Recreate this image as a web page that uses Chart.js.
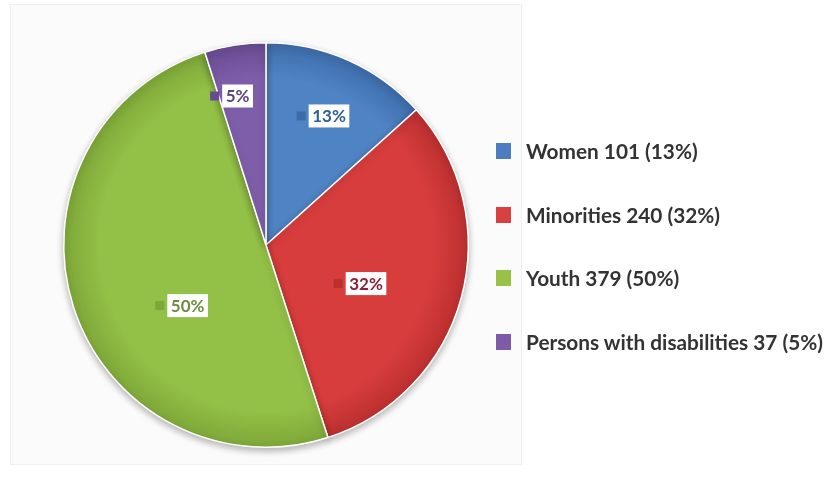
<!DOCTYPE html>
<html>
<head>
<meta charset="utf-8">
<script src="https://cdn.jsdelivr.net/npm/chart.js@4/dist/chart.umd.min.js"></script>
<style>
  html, body { margin: 0; padding: 0; background: #ffffff; }
  #wrap { position: relative; width: 840px; height: 486px; overflow: hidden; }
  #panel { position: absolute; left: 10px; top: 4px; width: 512px; height: 461px;
           background: #fbfbfb; border: 1px solid #efefef; box-sizing: border-box; }
  #chartBox { position: absolute; left: 0; top: 0; width: 840px; height: 486px; }
  #legend { position: absolute; left: 0; top: 0; width: 840px; height: 486px; pointer-events: none;
            font-family: Lato, "Open Sans", sans-serif; font-weight: 700; color: #333333; }
  .lg-row { position: absolute; left: 496px; height: 22px; display: flex; align-items: center; white-space: nowrap; }
  .lg-box { width: 15px; height: 16px; margin-right: 15px; }
  .lg-text { font-size: 20.8px; line-height: 22px; }
</style>
</head>
<body>
<div id="wrap">
  <div id="panel"></div>
  <div id="chartBox"><canvas id="c" width="840" height="486"></canvas></div>
  <div id="legend"></div>
</div>
<script>
// ---- data ----
const categories = ["Women", "Minorities", "Youth", "Persons with disabilities"];
const counts = [101, 240, 379, 37];
const percentLabels = ["13%", "32%", "50%", "5%"];

// ---- styles ----
const innerColors = ["#4f84c4", "#d83d3d", "#93c047", "#7f5ea9"];
const outerColors = ["#3d6caa", "#bb2f2f", "#7da738", "#684a92"];
const legendColors = ["#4a7ec0", "#d94040", "#97c246", "#7e5ba6"];
const labelTextColors = ["#2e6096", "#8c1f33", "#6f8c40", "#5a4680"];
const labelRadius = [0.71, 0.53, 0.49, 0.75];
const labelAngleShift = [2, 6, -20, -2];
const legendRowY = [151, 215, 278, 342];

function radialFill(ctx) {
  const idx = ctx.dataIndex;
  const chart = ctx.chart;
  const area = chart.chartArea;
  if (!area) return innerColors[idx];
  const cx = (area.left + area.right) / 2;
  const cy = (area.top + area.bottom) / 2;
  const r = Math.min(area.right - area.left, area.bottom - area.top) / 2;
  const g = chart.ctx.createRadialGradient(cx, cy, 0, cx, cy, r);
  g.addColorStop(0, innerColors[idx]);
  g.addColorStop(0.82, innerColors[idx]);
  g.addColorStop(1, outerColors[idx]);
  return g;
}

const shadowPlugin = {
  id: 'shadow',
  beforeDatasetDraw(chart) {
    const c = chart.ctx;
    c.save();
    c.shadowColor = 'rgba(0,0,0,0.28)';
    c.shadowBlur = 7;
    c.shadowOffsetX = 0;
    c.shadowOffsetY = 3;
  },
  afterDatasetDraw(chart) {
    chart.ctx.restore();
  }
};

const labelPlugin = {
  id: 'sliceLabels',
  afterDatasetsDraw(chart) {
    const c = chart.ctx;
    const meta = chart.getDatasetMeta(0);
    c.save();
    c.font = 'bold 17px Lato, "Open Sans", sans-serif';
    c.textBaseline = 'middle';
    c.textAlign = 'left';
    meta.data.forEach((arc, i) => {
      const mid = (arc.startAngle + arc.endAngle) / 2 + labelAngleShift[i] * Math.PI / 180;
      const r = arc.outerRadius * labelRadius[i];
      const cx = arc.x + Math.cos(mid) * r;
      const cy = arc.y + Math.sin(mid) * r;
      const txt = percentLabels[i];
      const tw = c.measureText(txt).width;
      const bw = tw + 7, bh = 23;
      const bx = cx - bw / 2, by = cy - bh / 2;
      c.fillStyle = '#ffffff';
      c.fillRect(bx, by, bw, bh);
      c.fillStyle = outerColors[i];
      c.fillRect(bx - 12, cy - 4.5, 9, 9);
      c.fillStyle = labelTextColors[i];
      c.fillText(txt, bx + 3.5, cy + 1);
    });
    c.restore();
  }
};

const chart = new Chart(document.getElementById('c'), {
  type: 'pie',
  data: {
    labels: categories,
    datasets: [{
      data: counts,
      backgroundColor: radialFill,
      borderColor: '#ffffff',
      borderWidth: 1.5
    }]
  },
  options: {
    responsive: false,
    animation: false,
    layout: { padding: { left: 62, top: 42, right: 370, bottom: 38 } },
    plugins: {
      legend: { display: false },
      tooltip: { enabled: false }
    }
  },
  plugins: [shadowPlugin, labelPlugin]
});

// HTML legend built from data
const lg = document.getElementById('legend');
categories.forEach((name, i) => {
  const row = document.createElement('div');
  row.className = 'lg-row';
  row.style.top = (legendRowY[i] - 11) + 'px';
  const box = document.createElement('div');
  box.className = 'lg-box';
  box.style.background = legendColors[i];
  const t = document.createElement('span');
  t.className = 'lg-text';
  t.textContent = name + ' ' + counts[i] + ' (' + percentLabels[i] + ')';
  row.appendChild(box);
  row.appendChild(t);
  lg.appendChild(row);
});
</script>
</body>
</html>
